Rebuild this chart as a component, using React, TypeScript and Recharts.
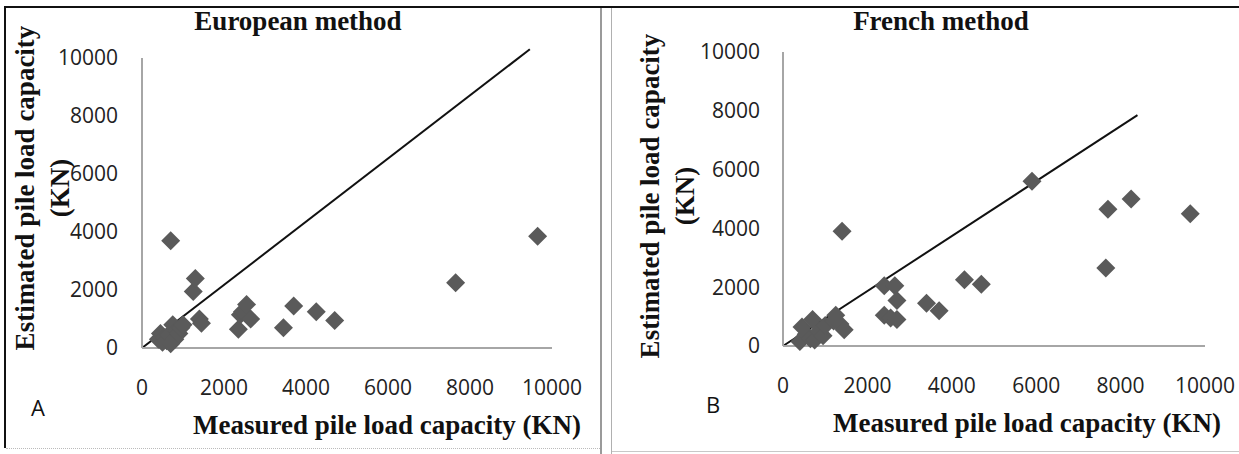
import React from 'react'
import { ScatterChart, Scatter, XAxis, YAxis, ReferenceLine } from 'recharts'

const axisTicks = [0, 2000, 4000, 6000, 8000, 10000]

// European method (panel A)
const europeanMeasured = [400, 450, 500, 550, 600, 650, 700, 700, 750, 800, 850, 900, 950, 1000, 1250, 1300, 1400, 1450, 2350, 2400, 2450, 2550, 2650, 3450, 3700, 4250, 4700, 7650, 9650]
const europeanEstimated = [300, 500, 200, 350, 250, 450, 150, 3700, 800, 300, 600, 500, 700, 800, 1950, 2400, 1000, 850, 650, 1150, 1250, 1500, 1000, 700, 1450, 1250, 950, 2250, 3850]
const europeanLineX = [0, 9460]
const europeanLineY = [0, 10300]

// French method (panel B)
const frenchMeasured = [400, 450, 550, 650, 700, 750, 850, 950, 1000, 1200, 1250, 1350, 1450, 1400, 2400, 2400, 2550, 2650, 2700, 2700, 3400, 3700, 4300, 4700, 5900, 7650, 7700, 8250, 9650]
const frenchEstimated = [150, 650, 400, 250, 900, 200, 500, 350, 700, 850, 1050, 750, 550, 3900, 2050, 1050, 950, 2050, 1550, 900, 1450, 1200, 2250, 2100, 5600, 2650, 4650, 5000, 4500]
const frenchLineX = [0, 8400]
const frenchLineY = [0, 7850]

const toPoints = (xs: number[], ys: number[]) => xs.map((x, i) => ({ x, y: ys[i] }))

const Diamond = (props: any) => {
  const { cx, cy } = props
  const r = 9.5
  return <polygon points={`${cx},${cy - r} ${cx + r},${cy} ${cx},${cy + r} ${cx - r},${cy}`} fill="#5a5a5a" />
}

const tickStyle = { fontFamily: 'Open Sans', fontSize: 21, fill: '#222' }
const serif = 'Liberation Serif, Times New Roman, serif'

interface PanelProps {
  left: number
  width: number
  points: { x: number; y: number }[]
  line: { x: number; y: number }[]
  yAxisWidth: number
  top: number
  bottom: number
  right: number
  yTickMargin: number
}

function Panel({ left, width, points, line, yAxisWidth, top, bottom, right, yTickMargin }: PanelProps) {
  return (
    <div style={{ position: 'absolute', left, top: 0 }}>
      <ScatterChart width={width} height={454} margin={{ top, right, bottom, left: 0 }}>
        <XAxis
          type="number"
          dataKey="x"
          domain={[0, 10000]}
          ticks={axisTicks}
          height={40}
          tickLine={false}
          tickSize={0}
          tickMargin={32}
          stroke="#a6a6a6"
          strokeWidth={2}
          tick={tickStyle}
          interval={0}
        />
        <YAxis
          type="number"
          dataKey="y"
          domain={[0, 10000]}
          ticks={axisTicks}
          width={yAxisWidth}
          tickLine={false}
          tickSize={0}
          tickMargin={yTickMargin}
          stroke="#a6a6a6"
          strokeWidth={2}
          tick={tickStyle}
          interval={0}
        />
        <Scatter data={points} shape={<Diamond />} isAnimationActive={false} />
        <ReferenceLine segment={line} ifOverflow="visible" stroke="#111" strokeWidth={2} />
      </ScatterChart>
    </div>
  )
}

const abs = (style: React.CSSProperties): React.CSSProperties => ({ position: 'absolute', ...style })

export default function App() {
  return (
    <div style={{ position: 'absolute', left: 0, top: 0, width: 1239, height: 454, background: '#fff', overflow: 'hidden' }}>
      {/* frame lines */}
      <div style={abs({ left: 4, top: 6, width: 1235, height: 2, background: '#111' })} />
      <div style={abs({ left: 4, top: 6, width: 2, height: 442, background: '#111' })} />
      <div style={abs({ left: 600, top: 8, width: 2, height: 446, background: '#9a9a9a' })} />
      <div style={abs({ left: 611, top: 8, width: 1, height: 446, background: '#b0b0b0' })} />
      <div style={abs({ left: 6, top: 448, width: 594, height: 0, borderTop: '1px dotted #bbb' })} />
      <div style={abs({ left: 612, top: 451, width: 627, height: 0, borderTop: '1px solid #c8c8c8' })} />

      <Panel
        left={0}
        width={600}
        points={toPoints(europeanMeasured, europeanEstimated)}
        line={toPoints(europeanLineX, europeanLineY)}
        yAxisWidth={142}
        top={58}
        right={48}
        bottom={66}
        yTickMargin={24}
      />
      <Panel
        left={600}
        width={639}
        points={toPoints(frenchMeasured, frenchEstimated)}
        line={toPoints(frenchLineX, frenchLineY)}
        yAxisWidth={183}
        top={52}
        right={34}
        bottom={68}
        yTickMargin={23}
      />

      {/* titles */}
      <div style={abs({ left: 298, top: 21, transform: 'translate(-50%,-50%)', font: `bold 27px ${serif}`, whiteSpace: 'nowrap', color: '#111' })}>European method</div>
      <div style={abs({ left: 941, top: 21, transform: 'translate(-50%,-50%)', font: `bold 27px ${serif}`, whiteSpace: 'nowrap', color: '#111' })}>French method</div>

      <div style={abs({ left: 387, top: 425, transform: 'translate(-50%,-50%)', font: `bold 27px ${serif}`, whiteSpace: 'nowrap', color: '#111' })}>Measured pile load capacity (KN)</div>
      <div style={abs({ left: 1027, top: 423, transform: 'translate(-50%,-50%)', font: `bold 27px ${serif}`, whiteSpace: 'nowrap', color: '#111' })}>Measured pile load capacity (KN)</div>

      <div style={abs({ left: 43, top: 188, transform: 'translate(-50%,-50%) rotate(-90deg)', font: `bold 27px ${serif}`, lineHeight: '35px', whiteSpace: 'nowrap', textAlign: 'center', color: '#111' })}>
        Estimated pile load capacity<br />(KN)
      </div>
      <div style={abs({ left: 668, top: 196, transform: 'translate(-50%,-50%) rotate(-90deg)', font: `bold 27px ${serif}`, lineHeight: '35px', whiteSpace: 'nowrap', textAlign: 'center', color: '#111' })}>
        Estimated pile load capacity<br />(KN)
      </div>

      <div style={abs({ left: 38, top: 407, transform: 'translate(-50%,-50%)', font: '22px Open Sans', color: '#111' })}>A</div>
      <div style={abs({ left: 713, top: 404, transform: 'translate(-50%,-50%)', font: '22px Open Sans', color: '#111' })}>B</div>
    </div>
  )
}
